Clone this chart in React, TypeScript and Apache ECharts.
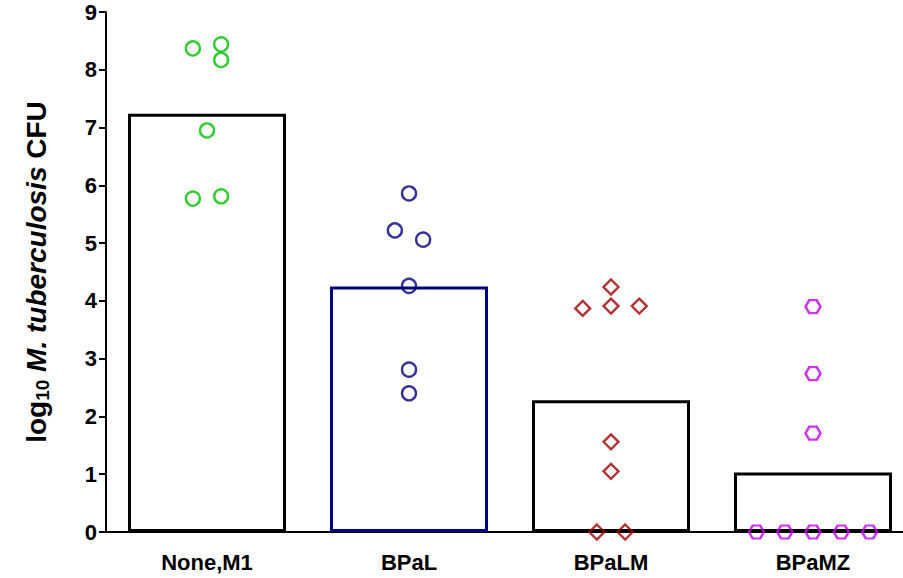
import React, { useEffect, useRef } from "react";
import * as echarts from "echarts";

const categories = ["None,M1", "BPaL", "BPaLM", "BPaMZ"];
const barMeans = [7.24, 4.25, 2.28, 1.03];
const barBorderColors = ["#000000", "#000080", "#000000", "#000000"];

const yTicks = [0, 1, 2, 3, 4, 5, 6, 7, 8, 9];

// individual values (y) and horizontal jitter (in category units)
const noneM1Values = [8.37, 8.44, 8.17, 6.95, 5.77, 5.81];
const noneM1Jitter = [-0.07, 0.07, 0.07, 0, -0.07, 0.07];
const bpalValues = [5.86, 5.22, 5.06, 4.26, 2.81, 2.4];
const bpalJitter = [0, -0.07, 0.07, 0, 0, 0];
const bpalmValues = [4.24, 3.87, 3.91, 3.91, 1.56, 1.05, 0, 0];
const bpalmJitter = [0, -0.14, 0, 0.14, 0, 0, -0.07, 0.07];
const bpamzValues = [3.9, 2.74, 1.71, 0, 0, 0, 0, 0];
const bpamzJitter = [0, 0, 0, -0.28, -0.14, 0, 0.14, 0.28];

const hexPath = "path://M0,8.66 L5,0 L15,0 L20,8.66 L15,17.32 L5,17.32 Z";

function pts(idx: number, vals: number[], jit: number[]) {
  return vals.map((v, i) => [idx + jit[i], v]);
}

export default function App() {
  const ref = useRef<HTMLDivElement>(null);
  useEffect(() => {
    if (!ref.current) return;
    const chart = echarts.init(ref.current, undefined, { renderer: "svg" });
    const font = "'Liberation Sans', Arial, sans-serif";
    const scatterBase = {
      type: "scatter",
      xAxisIndex: 1,
      yAxisIndex: 0,
      clip: false,
      z: 5,
    };
    chart.setOption({
      animation: false,
      backgroundColor: "#ffffff",
      grid: { left: 106, top: 12, height: 520, width: 808 },
      xAxis: [
        {
          type: "category",
          data: categories,
          axisLine: { lineStyle: { color: "#000", width: 2 } },
          axisTick: { alignWithLabel: true, length: 6, lineStyle: { color: "#000", width: 2 } },
          axisLabel: {
            color: "#000",
            fontFamily: font,
            fontWeight: "bold",
            fontSize: 22,
            margin: 19,
          },
          splitLine: { show: false },
        },
        {
          type: "value",
          min: -0.5,
          max: 3.5,
          show: false,
          splitLine: { show: false },
        },
      ],
      yAxis: {
        type: "value",
        min: yTicks[0],
        max: yTicks[yTicks.length - 1],
        interval: 1,
        axisLine: { show: true, onZero: false, lineStyle: { color: "#000", width: 2 } },
        axisTick: { show: true, length: 7, lineStyle: { color: "#000", width: 2 } },
        axisLabel: {
          color: "#000",
          fontFamily: font,
          fontWeight: "bold",
          fontSize: 22,
          margin: 9,
        },
        splitLine: { show: false },
        name: "{n|log}{s|10} {i|M. tuberculosis} {n|CFU}",
        nameLocation: "middle",
        nameRotate: 90,
        nameGap: 54,
        nameTextStyle: {
          color: "#000",
          fontFamily: font,
          fontWeight: "bold",
          fontSize: 28,
          rich: {
            n: { fontFamily: font, fontWeight: "bold", fontSize: 28, color: "#000" },
            s: {
              fontFamily: font,
              fontWeight: "bold",
              fontSize: 19,
              color: "#000",
              verticalAlign: "bottom",
              padding: [13, 0, 0, 0],
            },
            i: {
              fontFamily: font,
              fontWeight: "bold",
              fontStyle: "italic",
              fontSize: 28,
              color: "#000",
            },
          },
        },
      },
      series: [
        {
          type: "bar",
          xAxisIndex: 0,
          data: barMeans.map((v, i) => ({
            value: v,
            itemStyle: { color: "#ffffff", borderColor: barBorderColors[i], borderWidth: 3 },
          })),
          barWidth: 158,
          z: 2,
        },
        {
          ...scatterBase,
          data: pts(0, noneM1Values, noneM1Jitter),
          symbol: "circle",
          symbolSize: 14,
          itemStyle: { color: "transparent", borderColor: "#00c000", borderWidth: 2.4 },
        },
        {
          ...scatterBase,
          data: pts(1, bpalValues, bpalJitter),
          symbol: "circle",
          symbolSize: 14,
          itemStyle: { color: "transparent", borderColor: "#000080", borderWidth: 2.4 },
        },
        {
          ...scatterBase,
          data: pts(2, bpalmValues, bpalmJitter),
          symbol: "diamond",
          symbolSize: 15,
          itemStyle: { color: "transparent", borderColor: "#a00000", borderWidth: 2.4 },
        },
        {
          ...scatterBase,
          data: pts(3, bpamzValues, bpamzJitter),
          symbol: hexPath,
          symbolSize: [15, 13],
          itemStyle: { color: "transparent", borderColor: "#c000f0", borderWidth: 2.4 },
        },
      ],
    });
    return () => chart.dispose();
  }, []);
  return (
    <div
      ref={ref}
      style={{ position: "fixed", left: 0, top: 0, width: 914, height: 578 }}
    />
  );
}
